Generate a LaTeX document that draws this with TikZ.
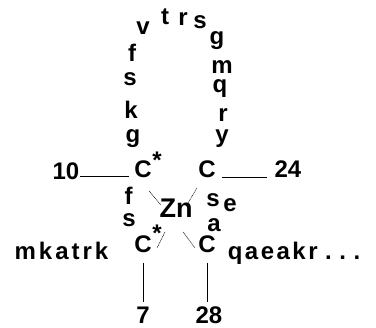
\documentclass[tikz,border=0pt]{standalone}
\usepackage{fontspec}
\setmainfont{Liberation Sans Bold}
\usepackage{tikz}
\newcommand\gp[1][3pt]{\hspace{#1}}

\begin{document}
\begin{tikzpicture}[x=1pt,y=-1pt,font=\fontsize{24}{28}\selectfont]
  \tikzstyle{aa}=[inner sep=0pt, anchor=base]
  \tikzstyle{ast}=[inner sep=0pt, anchor=north]
  \tikzstyle{metal}=[inner sep=0pt, anchor=base, font=\fontsize{27}{32}\selectfont]
  \tikzstyle{link}=[line width=0.8pt]
  \tikzstyle{bond}=[line width=0.5pt, dash pattern=on 1pt off 0.6pt]
  \useasboundingbox (0,0) rectangle (376,328);

  % the loop
  \node[aa] (1) at (133,143) {g};
  \node[aa] (2) at (131,119) {k};
  \node[aa] (3) at (130,86)  {s};
  \node[aa] (4) at (132,62)  {f};
  \node[aa] (5) at (143,35)  {v};
  \node[aa] (6) at (165,25)  {t};
  \node[aa] (7) at (183,26)  {r};
  \node[aa] (8) at (200,29)  {s};
  \node[aa] (9) at (217,45)  {g};
  \node[aa] (10) at (222,74) {m};
  \node[aa] (11) at (220,93) {q};
  \node[aa] (12) at (223,122) {r};
  \node[aa] (13) at (222,143) {y};

  % cysteines and zinc
  \node[aa] (c1) at (143,178) {C};
  \node[aa] (c2) at (207,178) {C};
  \node[aa] (c3) at (143,253) {C};
  \node[aa] (c4) at (207,253) {C};
  \node[ast] (s1) at ([shift={(14,-26)}]c1.base) {*};
  \node[ast] (s2) at ([shift={(14,-28)}]c3.base) {*};
  \node[metal] (zn) at (176,218) {Zn};

  \node[aa] (14) at (128.5,205) {f};
  \node[aa] (15) at (129,227) {s};
  \node[aa] (16) at (213,207) {s};
  \node[aa] (17) at (230,212) {e};
  \node[aa] (18) at (214,232) {a};

  \node[aa] (left) at (61.5,260) {m\gp k\gp a\gp t\gp r\gp k};
  \node[aa] (right) at (294,260) {q\gp[2.5pt]a\gp[2.5pt]e\gp[2.5pt]a\gp[2.5pt]k\gp[2.5pt]r\gp[7.5pt].\gp[7.5pt].\gp[7.5pt].};

  % positions
  \node[aa] (n10) at (66,180) {10};
  \node[aa] (n24) at (288,178) {24};
  \node[aa] (n7) at (143,324) {7};
  \node[aa] (n28) at (209,324) {28};

  \draw[link] ([shift={(0,-4)}]n10.base east) -- ([shift={(-5,-2)}]c1.base west);
  \draw[link] ([shift={(6,-1)}]c2.base east) -- ([shift={(-7,-1)}]n24.base west);
  \draw[link, shorten <=10pt, shorten >=5pt] (c3.south) -- (n7.north);
  \draw[link, shorten <=10pt, shorten >=5pt] (c4.south) -- (c4.south |- n28.north);

  \draw[bond] ([shift={(6,13)}]c1.base) -- ([shift={(-15,-13)}]zn.base);
  \draw[bond] ([shift={(-10,10)}]c2.base) -- ([shift={(12,-15)}]zn.base);
  \draw[bond] ([shift={(-11,14)}]zn.base) -- ([shift={(14,-5)}]c3.base);
  \draw[bond] ([shift={(7,14)}]zn.base) -- ([shift={(-12,-5)}]c4.base);
\end{tikzpicture}
\end{document}
